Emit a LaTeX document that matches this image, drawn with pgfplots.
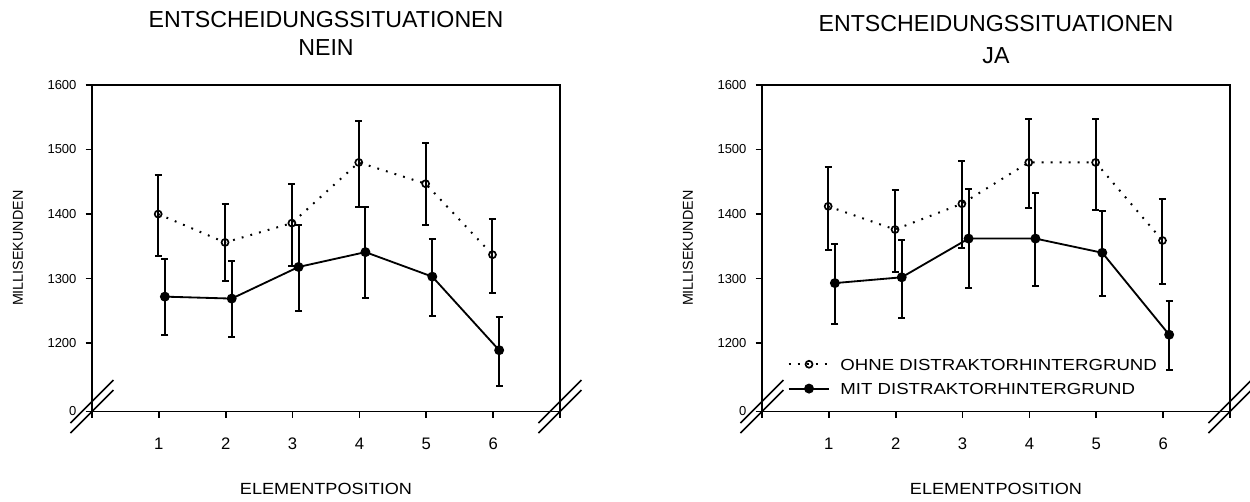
\documentclass[border=0pt]{standalone}
\usepackage{fontspec}
\setmainfont{Liberation Sans}
\usepackage{graphicx}
\usepackage{pgfplots}
\usepackage{pgfplotstable}
\pgfplotsset{compat=1.18}
\usetikzlibrary{calc}

\newcommand{\fs}[1]{\fontsize{#1}{#1}\selectfont}

% x  y  ep(plus)  em(minus)
\pgfplotstableread{
x y ep em
1 1400 60.5 65
2 1356 60 60
3 1386 61 66
4 1480 64 69
5 1447 62.5 64
6 1337 55 60
}\neinohne
\pgfplotstableread{
x y ep em
1 1272 58 60
2 1269 58 60
3 1318 65 69
4 1341 70 71
5 1303 58 61
6 1189 51 55
}\neinmit
\pgfplotstableread{
x y ep em
1 1412 61 67
2 1376 62 66
3 1416 66 68
4 1480 67 70
5 1480 67 74
6 1359 64 67
}\jaohne
\pgfplotstableread{
x y ep em
1 1293 61 63
2 1302 58 63
3 1362 77 77
4 1362 70 74
5 1340 64 67
6 1213 52 54
}\jamit

\pgfplotsset{
  myaxis/.style={
    scale only axis,
    width=280.8pt, height=195.9pt,
    xmin=0, xmax=7, ymin=1094, ymax=1600,
    axis line style={line width=1.15pt},
    xtick={0,1,2,3,4,5,6,7},
    xticklabels={,1,2,3,4,5,6,},
    ytick={1094,1200,1300,1400,1500,1600},
    yticklabels={0,1200,1300,1400,1500,1600},
    tick align=outside,
    tick pos=left,
    major tick length=3.8pt,
    every tick/.style={black, line width=1.1pt},
    /pgf/number format/assume math mode=true,
    xticklabel style={font=\fs{10}, anchor=base, yshift=-19pt},
    yticklabel style={font=\fs{7.8}, anchor=east, xshift=-2pt},
    clip=false,
  },
  eb/.style={
    error bars/.cd,
      y dir=both, y explicit,
      error mark=-,
      error bar style={line width=1.2pt, black, solid},
      error mark options={rotate=90, line width=1.2pt, black, solid, mark size=2.1pt},
  },
  ohne/.style={black, line width=1.2pt, dash pattern=on 1.1pt off 4.3pt,
    mark=o, mark size=2.1pt, mark options={solid, fill=white, line width=1pt}, eb},
  mit/.style={black, line width=1.1pt, solid,
    mark=*, mark size=2.4pt, mark options={solid, fill=black}, eb},
}

\newcommand{\breakmarks}{%
    \draw[line width=1pt] ($(rel axis cs:0,0)+(-12.9pt,-12.9pt)$) -- ($(rel axis cs:0,0)+(12.9pt,12.9pt)$);
    \draw[line width=1pt] ($(rel axis cs:0,0)+(-12.9pt,-6.9pt)$) -- ($(rel axis cs:0,0)+(12.9pt,18.9pt)$);
    \draw[line width=1pt] ($(rel axis cs:1,0)+(-12.9pt,-12.9pt)$) -- ($(rel axis cs:1,0)+(12.9pt,12.9pt)$);
    \draw[line width=1pt] ($(rel axis cs:1,0)+(-12.9pt,-6.9pt)$) -- ($(rel axis cs:1,0)+(12.9pt,18.9pt)$);
}

\begin{document}
\begin{tikzpicture}
\useasboundingbox (-55.2pt,-53.7pt) rectangle (694.8pt,246.9pt);

% ---------------- left: NEIN
\begin{axis}[myaxis, at={(0pt,0pt)}, anchor=south west]
\addplot[ohne] table[x expr=\thisrow{x}-0.01, y=y, y error plus=ep, y error minus=em] {\neinohne};
\addplot[mit] table[x expr=\thisrow{x}+0.09, y=y, y error plus=ep, y error minus=em] {\neinmit};
\breakmarks
\node[anchor=base, font=\fs{13.9}] at ($(rel axis cs:0.5,1)+(0pt,34.6pt)$) {ENTSCHEIDUNGSSITUATIONEN};
\node[anchor=base, font=\fs{13.9}] at ($(rel axis cs:0.5,1)+(0pt,17.5pt)$) {NEIN};
\node[rotate=90, anchor=center, font=\fs{8.6}] at ($(rel axis cs:0,0.5)+(-44.4pt,0pt)$) {MILLISEKUNDEN};
\node[anchor=base, font=\fs{9.7}] at ($(rel axis cs:0.5,0)+(0pt,-50pt)$) {\scalebox{1.12}[1]{ELEMENTPOSITION}};
\end{axis}

% ---------------- right: JA
\begin{axis}[myaxis, at={(402pt,0pt)}, anchor=south west,
  legend style={at={(0.0549,0.1623)}, anchor=north west, draw=none, fill=none,
    inner sep=0pt, outer sep=0pt, row sep=7.7pt, font=\fs{9.6},
    nodes={inner sep=0pt, text height=6.9pt, text depth=0pt},
    /tikz/every odd column/.append style={column sep=6pt}},
  legend cell align=left,
  legend image code/.code={\draw[mark repeat=2,mark phase=2,#1] plot coordinates {(0pt,0pt) (12.2pt,0pt) (24.4pt,0pt)};},
]
\addplot[ohne] table[x expr=\thisrow{x}-0.01, y=y, y error plus=ep, y error minus=em] {\jaohne};
\addlegendentry{\scalebox{1.165}[1]{OHNE DISTRAKTORHINTERGRUND}}
\addplot[mit] table[x expr=\thisrow{x}+0.09, y=y, y error plus=ep, y error minus=em] {\jamit};
\addlegendentry{\scalebox{1.165}[1]{MIT DISTRAKTORHINTERGRUND}}
\breakmarks
\node[anchor=base, font=\fs{13.9}] at ($(rel axis cs:0.5,1)+(0pt,32pt)$) {ENTSCHEIDUNGSSITUATIONEN};
\node[anchor=base, font=\fs{13.9}] at ($(rel axis cs:0.5,1)+(0pt,13pt)$) {JA};
\node[rotate=90, anchor=center, font=\fs{8.6}] at ($(rel axis cs:0,0.5)+(-44.4pt,0pt)$) {MILLISEKUNDEN};
\node[anchor=base, font=\fs{9.7}] at ($(rel axis cs:0.5,0)+(0pt,-50pt)$) {\scalebox{1.12}[1]{ELEMENTPOSITION}};
\end{axis}
\end{tikzpicture}
\end{document}
